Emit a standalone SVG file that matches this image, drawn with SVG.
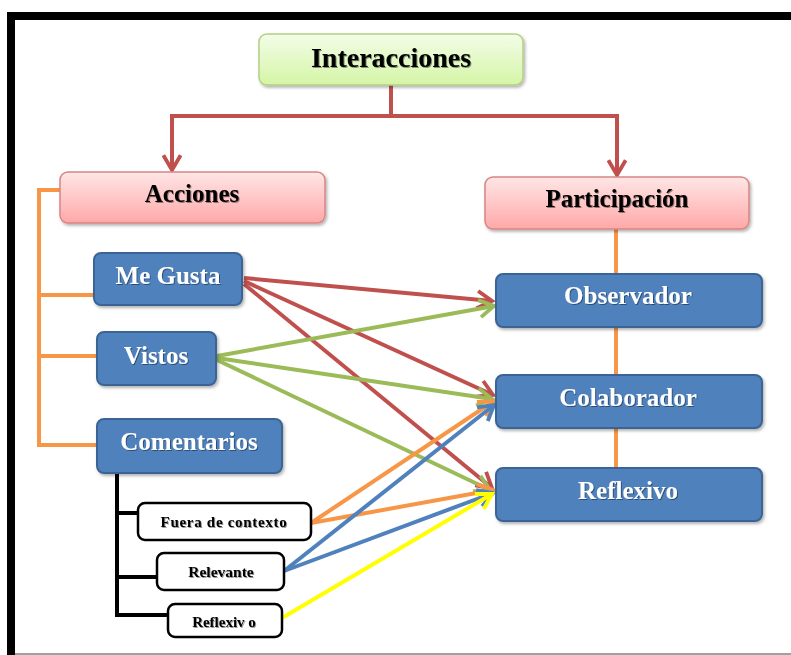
<svg xmlns="http://www.w3.org/2000/svg" width="791" height="655" viewBox="0 0 791 655">
<defs>
<linearGradient id="gGreen" x1="0" y1="0" x2="0" y2="1"><stop offset="0" stop-color="#f3fde8"/><stop offset="1" stop-color="#d5f5a6"/></linearGradient>
<linearGradient id="gPink" x1="0" y1="0" x2="0" y2="1"><stop offset="0" stop-color="#ffe6e6"/><stop offset="1" stop-color="#ffa8a8"/></linearGradient>
<filter id="sh" x="-10%" y="-20%" width="125%" height="150%"><feDropShadow dx="1.5" dy="2" stdDeviation="1.5" flood-color="#000" flood-opacity="0.3"/></filter>
<filter id="tsh" x="-5%" y="-20%" width="110%" height="150%"><feDropShadow dx="1" dy="1" stdDeviation="0.6" flood-color="#000" flood-opacity="0.4"/></filter>
<marker id="mRed" viewBox="0 0 12 12" refX="10" refY="6" markerWidth="5.2" markerHeight="5.2" orient="auto" markerUnits="strokeWidth"><path d="M1.5,1 L10,6 L1.5,11" fill="none" stroke="#c0504d" stroke-width="2.2"/></marker>
<marker id="mGreen" viewBox="0 0 12 12" refX="10" refY="6" markerWidth="5.2" markerHeight="5.2" orient="auto" markerUnits="strokeWidth"><path d="M1.5,1 L10,6 L1.5,11" fill="none" stroke="#9bbb59" stroke-width="2.2"/></marker>
<marker id="mOrange" viewBox="0 0 12 12" refX="10" refY="6" markerWidth="5.2" markerHeight="5.2" orient="auto" markerUnits="strokeWidth"><path d="M1.5,1 L10,6 L1.5,11" fill="none" stroke="#f79646" stroke-width="2.2"/></marker>
<marker id="mBlue" viewBox="0 0 12 12" refX="10" refY="6" markerWidth="5.2" markerHeight="5.2" orient="auto" markerUnits="strokeWidth"><path d="M1.5,1 L10,6 L1.5,11" fill="none" stroke="#4f81bd" stroke-width="2.2"/></marker>
<marker id="mYellow" viewBox="0 0 12 12" refX="10" refY="6" markerWidth="5.2" markerHeight="5.2" orient="auto" markerUnits="strokeWidth"><path d="M1.5,1 L10,6 L1.5,11" fill="none" stroke="#ffff00" stroke-width="2.2"/></marker>
</defs>
<style>
.t{font-family:"Liberation Serif","Times New Roman",serif;font-weight:bold;text-anchor:middle}
.dark{fill:#000;filter:url(#tsh)}
.white{fill:#fff;filter:url(#tsh)}
.blue{fill:#4f81bd;stroke:#3b6493;stroke-width:2;filter:url(#sh)}
.small{fill:#fff;stroke:#000;stroke-width:2.5}
.ln{fill:none;stroke-width:4}
</style>
<rect x="0" y="0" width="791" height="655" fill="#fff"/>
<g id="frame">
<rect x="7" y="12" width="784" height="8" fill="#000"/>
<rect x="7" y="12" width="8" height="643" fill="#000"/>
<line x1="15" y1="654" x2="791" y2="654" stroke="#a0a0a0" stroke-width="2"/>
</g>
<g id="connectors">
<path class="ln" stroke="#c0504d" d="M391,85 V116 M172,116 H617"/>
<line class="ln" stroke="#c0504d" x1="172" y1="114" x2="172" y2="170" marker-end="url(#mRed)"/>
<line class="ln" stroke="#c0504d" x1="617" y1="114" x2="617" y2="175" marker-end="url(#mRed)"/>
<path class="ln" stroke="#f79646" d="M60,190 H39 V445 H97 M39,295 H94 M39,356 H97"/>
<path class="ln" stroke="#f79646" d="M616,229 V468"/>
<path class="ln" stroke="#000" stroke-width="5" d="M117,473 V615 H168 M117,513 H138 M117,577 H157"/>
<line class="ln" stroke="#c0504d" x1="244" y1="278" x2="492" y2="301" marker-end="url(#mRed)"/>
<line class="ln" stroke="#c0504d" x1="244" y1="281" x2="493" y2="395" marker-end="url(#mRed)"/>
<line class="ln" stroke="#c0504d" x1="244" y1="284" x2="492" y2="488" marker-end="url(#mRed)"/>
<line class="ln" stroke="#9bbb59" x1="217" y1="356" x2="494" y2="306" marker-end="url(#mGreen)"/>
<line class="ln" stroke="#9bbb59" x1="217" y1="358" x2="492" y2="399" marker-end="url(#mGreen)"/>
<line class="ln" stroke="#9bbb59" x1="217" y1="360" x2="490" y2="490" marker-end="url(#mGreen)"/>
<line class="ln" stroke="#f79646" x1="311" y1="523" x2="494" y2="401" marker-end="url(#mOrange)"/>
<line class="ln" stroke="#f79646" x1="311" y1="523" x2="493" y2="490" marker-end="url(#mOrange)"/>
<line class="ln" stroke="#4f81bd" x1="284" y1="571" x2="494" y2="405" marker-end="url(#mBlue)"/>
<line class="ln" stroke="#4f81bd" x1="284" y1="571" x2="493" y2="493" marker-end="url(#mBlue)"/>
<line class="ln" stroke="#ffff00" x1="282" y1="618" x2="492" y2="494" marker-end="url(#mYellow)"/>
</g>
<g id="interacciones">
<rect x="259" y="34" width="264" height="51" rx="8" fill="url(#gGreen)" stroke="#b3cf86" stroke-width="1.5" filter="url(#sh)"/>
<text class="t dark" x="391" y="67" font-size="28">Interacciones</text>
</g>
<g id="acciones">
<rect x="60" y="172" width="265" height="51" rx="8" fill="url(#gPink)" stroke="#d88585" stroke-width="1.5" filter="url(#sh)"/>
<text class="t dark" x="192" y="202" font-size="25">Acciones</text>
</g>
<g id="participacion">
<rect x="485" y="177" width="264" height="52" rx="8" fill="url(#gPink)" stroke="#d88585" stroke-width="1.5" filter="url(#sh)"/>
<text class="t dark" x="617" y="207" font-size="25">Participación</text>
</g>
<g id="megusta">
<rect class="blue" x="94" y="253" width="148" height="52" rx="7"/>
<text class="t white" x="168" y="284" font-size="25">Me Gusta</text>
</g>
<g id="vistos">
<rect class="blue" x="97" y="332" width="119" height="53" rx="7"/>
<text class="t white" x="156" y="364" font-size="25">Vistos</text>
</g>
<g id="comentarios">
<rect class="blue" x="97" y="419" width="185" height="54" rx="7"/>
<text class="t white" x="189" y="450" font-size="25">Comentarios</text>
</g>
<g id="observador">
<rect class="blue" x="496" y="274" width="266" height="53" rx="7"/>
<text class="t white" x="628" y="304" font-size="25">Observador</text>
</g>
<g id="colaborador">
<rect class="blue" x="496" y="375" width="266" height="53" rx="7"/>
<text class="t white" x="628" y="406" font-size="25">Colaborador</text>
</g>
<g id="reflexivo">
<rect class="blue" x="496" y="468" width="266" height="53" rx="7"/>
<text class="t white" x="628" y="499" font-size="25">Reflexivo</text>
</g>
<g id="fuera">
<rect class="small" x="138" y="503" width="173" height="37" rx="7"/>
<text class="t dark" x="224" y="527" font-size="15" letter-spacing="0.7">Fuera de contexto</text>
</g>
<g id="relevante">
<rect class="small" x="157" y="553" width="127" height="37" rx="7"/>
<text class="t dark" x="221" y="577" font-size="15.5">Relevante</text>
</g>
<g id="reflexivo-small">
<rect class="small" x="168" y="604" width="114" height="33" rx="7"/>
<text class="t dark" x="224" y="627" font-size="15">Reflexiv o</text>
</g>
</svg>
